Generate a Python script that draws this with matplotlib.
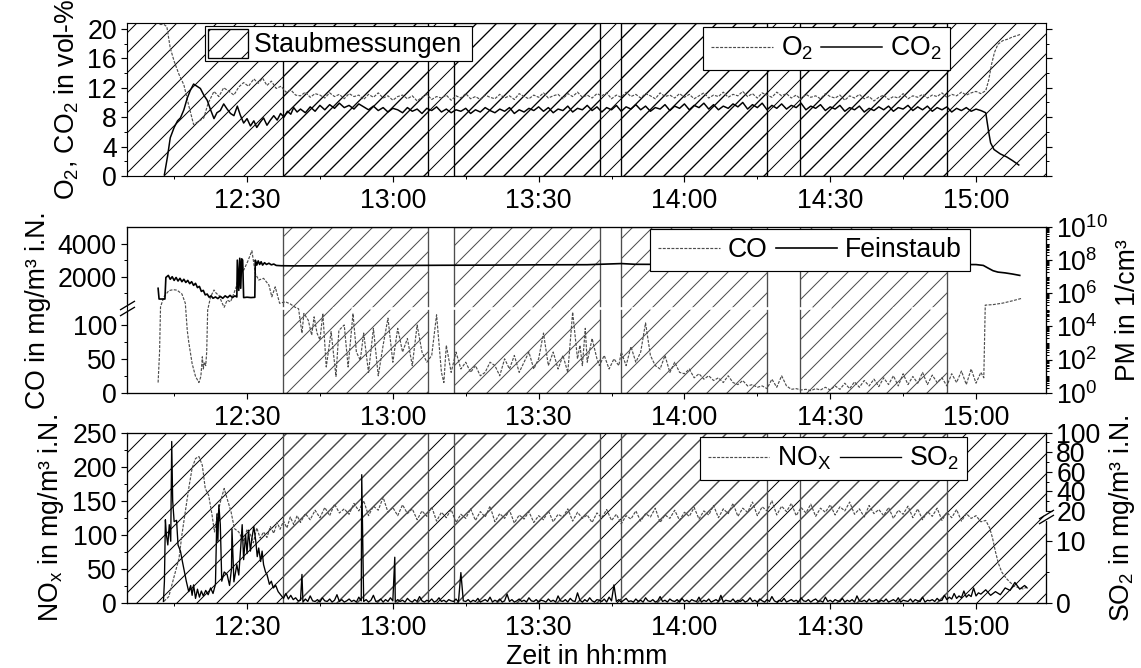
import numpy as np
import matplotlib
matplotlib.use("Agg")
import matplotlib.pyplot as plt
from matplotlib.patches import Patch
from matplotlib.ticker import FixedLocator, FuncFormatter, MultipleLocator, LogLocator, NullFormatter

plt.rcParams["font.family"] = "Liberation Sans"
plt.rcParams["font.size"] = 16
plt.rcParams["mathtext.fontset"] = "custom"
plt.rcParams["mathtext.rm"] = "Liberation Sans"
plt.rcParams["mathtext.it"] = "Liberation Sans:italic"
plt.rcParams["mathtext.bf"] = "Liberation Sans:bold"
plt.rcParams["hatch.linewidth"] = 0.6
plt.rcParams["axes.linewidth"] = 0.7
for a in ("xtick", "ytick"):
    plt.rcParams[a + ".major.size"] = 3.6
    plt.rcParams[a + ".minor.size"] = 2.0
    plt.rcParams[a + ".major.width"] = 0.7
    plt.rcParams[a + ".minor.width"] = 0.6
    plt.rcParams[a + ".direction"] = "out"
plt.rcParams["ytick.major.pad"] = 2.5

# Zeit in Minuten nach 12:00
T_MIN, T_MAX = 5.3, 194.4

# Staubmessungen (Beginn / Ende)
dust_start = [37.4, 72.6, 107.0, 143.8]
dust_end = [67.2, 102.6, 137.0, 174.0]

# ---- O2 in vol-% ----
o2_head_t = [12.0, 12.9, 13.5, 14.2, 15.0, 16.0, 17.0, 18.0, 19.0, 20.0, 21.1, 22.0, 23.2, 24.2,
             25.2, 26.3, 27.3, 28.3, 29.3, 30.3, 31.4, 32.3, 33.2, 34.1, 35.0, 36.0, 37.0, 38.0,
             39.0, 40.0]
o2_head = [20.6, 20.6, 20.3, 17.4, 15.6, 13.8, 12.4, 9.6, 7.0, 7.4, 7.9, 9.9, 11.5, 10.8,
           12.0, 11.5, 11.0, 12.1, 12.7, 12.2, 13.2, 12.6, 13.3, 12.3, 12.9, 11.9, 12.2, 11.4,
           11.7, 11.0]
o2_mid = [  # 12:41 ... 15:01, je Minute
    10.9, 11.4, 10.7, 11.2, 11.0, 10.6, 11.3, 10.8, 11.1, 10.5,
    11.2, 10.8, 11.0, 10.4, 11.1, 10.7, 11.3, 10.6, 10.9, 10.3,
    10.8, 11.0, 10.5, 10.9, 10.2, 10.7, 11.1, 10.4, 10.8, 10.6,
    11.0, 10.3, 10.9, 10.6, 11.2, 10.5, 10.8, 10.4, 11.0, 10.7,
    10.5, 11.1, 10.6, 10.9, 10.4, 11.2, 10.8, 10.5, 11.0, 10.7,
    11.3, 10.6, 10.9, 11.1, 10.5, 11.2, 10.8, 11.4, 10.7, 11.0,
    10.6, 11.2, 10.9, 11.3, 10.5, 11.0, 10.7, 11.4, 10.8, 11.1,
    10.6, 11.2, 10.9, 10.5, 11.3, 10.8, 11.0, 10.6, 11.2, 10.7,
    11.1, 10.5, 10.9, 11.3, 10.6, 11.0, 10.8, 11.4, 10.7, 11.1,
    10.9, 11.5, 10.8, 11.2, 10.6, 11.3, 11.0, 10.7, 11.4, 10.9,
    11.2, 10.6, 11.0, 10.4, 11.1, 10.7, 10.9, 10.5, 11.2, 10.8,
    10.6, 11.0, 10.3, 10.9, 10.6, 11.1, 10.5, 10.8, 10.2, 10.7,
    11.0, 10.4, 10.8, 10.6, 11.2, 10.5, 10.9, 10.7, 11.1, 10.6,
    11.0, 10.8, 11.3, 10.7, 11.1, 10.9, 11.4, 11.0, 11.3, 11.5,
    11.2]
o2_tail_t = [182.0, 182.6, 183.2, 183.8, 184.5, 185.5, 186.5, 187.5, 188.5, 189.3]
o2_tail = [11.6, 13.0, 15.2, 16.8, 17.9, 18.4, 18.6, 18.9, 19.1, 19.3]

# ---- CO2 in vol-% ----
co2_head_t = [13.0, 13.6, 14.2, 15.0, 15.7, 16.3, 17.0, 17.7, 18.3, 19.0, 19.7, 20.4, 21.1, 21.8,
              22.5, 23.2, 23.8, 24.5, 25.2, 25.9, 26.6, 27.3, 28.0, 28.6, 29.3, 30.0, 30.7, 31.4,
              32.0, 32.7, 33.4, 34.1, 34.8, 35.5, 36.2, 36.9, 37.6, 38.3, 39.0, 39.6, 40.3]
co2_head = [0.2, 2.5, 5.2, 6.6, 7.5, 7.9, 9.0, 10.6, 11.6, 12.5, 12.2, 11.9, 11.0, 10.3,
            9.0, 7.8, 8.6, 8.9, 9.8, 9.1, 8.5, 8.2, 9.5, 8.3, 7.2, 7.8, 6.8, 7.5,
            6.6, 7.3, 7.9, 6.9, 7.6, 8.2, 7.6, 8.5, 8.0, 8.8, 8.4, 9.3, 8.7]
co2_mid = [
    9.1, 8.6, 9.4, 8.8, 9.6, 9.0, 9.7, 9.2, 9.9, 9.3,
    9.6, 9.1, 9.8, 9.4, 9.0, 9.5, 8.9, 9.3, 8.7, 9.2,
    9.0, 8.6, 9.3, 8.8, 9.1, 8.5, 9.2, 8.9, 9.4, 8.7,
    9.1, 8.6, 9.0, 8.8, 9.2, 8.5, 9.0, 8.7, 9.3, 8.9,
    8.6, 9.1, 8.8, 9.3, 8.5, 9.0, 8.7, 9.2, 8.9, 9.4,
    8.8, 9.3, 8.6, 9.1, 8.9, 9.5, 8.7, 9.2, 9.0, 9.6,
    8.9, 9.4, 8.7, 9.3, 9.0, 9.6, 8.8, 9.4, 9.1, 9.7,
    9.0, 9.5, 8.8, 9.3, 9.1, 9.7, 8.9, 9.5, 9.2, 9.8,
    9.0, 9.6, 9.3, 9.9, 9.1, 9.7, 9.0, 9.5, 9.2, 9.8,
    9.4, 10.0, 9.1, 9.7, 9.3, 9.9, 9.0, 9.6, 9.2, 9.8,
    9.1, 9.6, 9.3, 9.9, 9.0, 9.5, 9.2, 9.7, 8.9, 9.4,
    9.1, 9.6, 8.8, 9.3, 9.0, 9.5, 8.7, 9.2, 8.9, 9.4,
    9.0, 9.5, 8.8, 9.3, 9.1, 9.6, 8.9, 9.4, 9.0, 9.5,
    8.8, 9.3, 9.0, 9.4, 8.7, 9.2, 8.9, 9.3, 8.8, 9.1,
    8.9]
co2_tail_t = [182.0, 182.6, 183.0, 183.7, 185.0, 186.3, 187.5, 188.8]
co2_tail = [8.6, 6.0, 4.5, 3.6, 3.0, 2.6, 2.1, 1.5]

# ---- CO in mg/m3 i.N. ----
co_head_t = [11.7, 12.0, 12.2, 12.9, 13.9, 14.8, 15.6, 16.6, 17.3, 17.7, 18.0, 18.7, 19.4, 20.1,
             20.5, 20.8, 21.0, 21.2, 21.5, 21.7, 21.9, 22.5, 23.2, 23.7, 24.2, 24.9, 25.3, 25.9,
             26.6, 27.3, 27.9, 28.2, 28.6, 29.3, 30.1, 31.0, 31.7, 32.4, 33.4, 34.5, 35.1, 35.8,
             36.7, 37.9, 38.9, 39.9, 40.6, 41.3, 41.7, 42.6, 43.3, 43.8, 44.4, 45.0, 45.6, 46.3,
             47.3, 48.3, 48.9, 50.0, 50.8, 51.8, 52.5, 53.3, 54.0, 55, 56, 57, 58, 59, 60, 61, 62,
             63, 64, 65, 66, 67, 68, 69, 70, 70.5, 71, 72, 73, 74, 75, 76, 77, 78, 79, 80, 81, 82,
             83, 84, 85, 86, 87, 88, 89, 90, 91, 92, 93, 94, 95, 96, 97, 98, 98.5, 99, 99.6, 100,
             101, 102, 102.5, 103.5, 104.5, 105.5, 106.5, 107, 108, 109, 110, 111, 112, 113, 114,
             115, 116, 117, 118, 119]
co_head = [15, 60, 200, 800, 1170, 1230, 1200, 970, 410, 92, 75, 43, 24, 15,
           24, 53, 35, 45, 40, 60, 122, 800, 1210, 1000, 900, 410, 170, 600,
           500, 1010, 1500, 2000, 3000, 2400, 2900, 3570, 2210, 1810, 1910, 1510, 800, 1400,
           410, 500, 370, 170, 124, 88, 117, 107, 85, 112, 88, 78, 117, 38,
           90, 24, 92, 100, 38, 117, 60, 48, 88, 30, 95, 25, 70, 110, 45, 95, 60,
           80, 40, 100, 60, 45, 55, 115, 30, 15, 70, 30, 60, 35, 45, 30, 40, 25, 30, 45, 40, 25,
           50, 35, 55, 30, 45, 60, 35, 50, 88, 40, 60, 35, 55, 30, 119, 50, 70, 40, 95, 45,
           80, 50, 40, 55, 35, 50, 40, 60, 40, 68, 45, 60, 103, 55, 40,
           35, 55, 30, 45, 30]
co_mid = [  # 14:00 ... 15:00, je Minute
    28, 35, 22, 28, 20, 25, 18, 22, 15, 25,
    15, 12, 18, 10, 12, 8, 10, 6, 20, 8,
    25, 10, 5, 6, 4, 5, 3, 6, 4, 8,
    4, 10, 5, 14, 6, 16, 8, 18, 10, 20,
    9, 22, 12, 25, 10, 28, 12, 24, 14, 30,
    12, 26, 15, 22, 10, 28, 15, 32, 12, 35,
    14]
co_tail_t = [181.0, 181.6, 181.9, 183.5, 185.5, 187.5, 189.3]
co_tail = [30, 22, 300, 330, 420, 560, 700]

# ---- Feinstaub (PM) in 1/cm3 ----
pm_t = [11.7, 11.9, 13.1, 13.3, 13.8, 14.2, 14.6, 15.0, 15.4, 15.8, 16.2, 16.6, 17.0, 17.4,
        17.8, 18.2, 18.6, 19.0, 19.4, 19.8, 20.2, 20.6, 21.0, 21.4, 21.8, 22.2, 22.6, 23.0,
        23.5, 24.0, 24.5, 25.0, 25.5, 26.0, 26.5, 27.0, 27.5, 27.9, 28.0, 28.3, 28.5, 28.7,
        28.9, 29.1, 29.3, 30.0, 30.8, 31.6, 31.7, 32.0, 32.3, 32.6, 32.9, 33.2, 33.6, 34.0,
        34.5, 35.0, 35.5, 36.0, 37.0, 40, 50, 60, 70, 80, 90, 100, 104, 107, 110, 120, 130,
        140, 150, 160, 170, 180, 181.5, 182.5, 183.5, 184.5, 186.0, 187.5, 189.0]
pm = [2.0e6, 4.5e5, 4.5e5, 9e6, 1.2e7, 7e6, 1.0e7, 6e6, 9e6, 5.5e6, 8e6, 5e6, 7e6, 4.5e6,
      6e6, 3.8e6, 5e6, 3e6, 4e6, 2.2e6, 2.6e6, 1.3e6, 1.5e6, 8e5, 9e5, 5.8e5, 7e5, 5e5,
      6e5, 4.8e5, 6.5e5, 5e5, 7e5, 5.5e5, 7.5e5, 5.5e5, 7e5, 6e5, 1.0e8, 1.5e6, 1.3e8, 2e6,
      1.2e8, 1.0e8, 5.5e5, 5.8e5, 5.5e5, 5.7e5, 1.0e8, 5e7, 9e7, 5.5e7, 8e7, 5e7, 7e7, 5.5e7,
      6.5e7, 5.2e7, 5.8e7, 4.8e7, 4.6e7, 4.5e7, 4.6e7, 4.7e7, 4.9e7, 5.0e7, 5.2e7, 5.3e7, 5.8e7,
      6.2e7, 5.6e7, 5.5e7, 5.6e7, 5.6e7, 5.5e7, 5.6e7, 5.5e7, 5.4e7, 4.8e7, 3.3e7, 2.3e7,
      1.9e7, 1.7e7, 1.45e7, 1.2e7]

# ---- NOx in mg/m3 i.N. ----
nox_head_t = [12.9, 13.9, 14.9, 16.0, 16.6, 17.3, 18.0, 18.7, 19.4, 20.1, 20.8, 21.4, 22.1, 22.8,
              23.3, 23.8, 24.5, 25.3, 25.9, 26.7, 27.4, 28.3, 29.3, 30.0, 30.7, 31.3, 32.0, 32.7,
              33.4, 34.1, 34.8, 35.5, 36.2, 36.8, 37.5, 38.2, 38.9, 39.6, 40.3]
nox_head = [2, 9, 36, 65, 100, 134, 168, 198, 212, 215, 202, 168, 158, 129,
            104, 124, 148, 168, 153, 134, 109, 104, 90, 108, 100, 88, 110, 95,
            104, 96, 112, 102, 118, 108, 120, 110, 126, 115, 128]
nox_mid = [
    118, 131, 122, 136, 125, 140, 128, 145, 132, 138,
    130, 146, 135, 150, 128, 142, 136, 155, 133, 140,
    128, 144, 131, 138, 122, 135, 127, 141, 120, 133,
    125, 137, 118, 130, 124, 138, 121, 134, 126, 142,
    119, 131, 124, 136, 117, 129, 123, 134, 118, 128,
    122, 135, 119, 130, 126, 138, 120, 133, 124, 129,
    118, 132, 125, 137, 121, 130, 116, 128, 123, 135,
    120, 131, 126, 139, 118, 129, 124, 136, 121, 133,
    127, 140, 123, 135, 129, 143, 125, 138, 131, 146,
    127, 139, 133, 148, 128, 141, 135, 150, 129, 142,
    134, 146, 128, 140, 132, 145, 127, 139, 133, 144,
    129, 141, 135, 148, 130, 138, 126, 143, 131, 137,
    128, 140, 124, 136, 130, 142, 125, 138, 122, 134,
    127, 139, 121, 133, 125, 137, 120, 131, 124, 128,
    119]
nox_tail_t = [182.0, 182.8, 183.4, 184.0, 184.6, 185.3, 186.2, 187.0, 188.0, 188.8, 189.8, 190.5]
nox_tail = [121, 110, 95, 75, 58, 45, 36, 30, 24, 22, 20, 24]

# ---- SO2 in mg/m3 i.N. ----
so2_head_t = [12.8, 13.0, 13.2, 13.4, 13.7, 14.0, 14.3, 14.5, 14.7, 15.0, 15.5, 15.8, 16.3, 16.7,
              17.1, 17.5, 18.0, 18.4, 18.7, 19.0, 19.4, 19.8, 20.2, 20.6, 21.0, 21.5, 22.0, 22.5,
              23.0, 23.5, 23.8, 24.0, 24.2, 24.5, 24.8, 25.3, 25.9, 26.4, 26.8, 26.9, 27.3, 27.9,
              28.3, 28.7, 29.0, 29.3, 29.7, 30.0, 30.3, 30.7, 31.0, 31.4, 31.8, 32.1, 32.4, 32.8,
              33.1, 33.4, 33.8, 34.1, 34.6, 35.0, 35.4, 35.9, 36.4, 37.0, 37.5, 38.0, 38.5, 39.0,
              39.5, 40.0, 40.5]
so2_head = [0.2, 3.5, 13.5, 11.1, 9.4, 12.7, 10.0, 91.0, 30.0, 13.2, 13.4, 9.4, 8.4, 6.7,
            5.1, 3.5, 1.8, 2.8, 1.2, 2.9, 0.7, 2.2, 0.9, 1.9, 1.1, 2.0, 1.3, 2.4,
            1.5, 3.0, 16.9, 10.0, 26.0, 12.7, 3.5, 5.0, 4.6, 2.8, 5.5, 12.0, 3.4, 6.2,
            4.5, 9.0, 12.7, 7.0, 11.1, 8.0, 11.8, 8.4, 10.5, 12.4, 10.0, 7.5, 8.9, 6.7,
            8.4, 6.2, 5.0, 4.6, 3.0, 3.5, 2.4, 2.8, 1.8, 1.2, 0.7, 1.5, 0.6, 1.2,
            0.5, 0.8, 0.3]
so2_mid = [  # 12:41 ... 15:01, je halbe Minute
    0.4, 0.1, 0.6, 0.2, 1.1, 0.3, 0.2, 0.5, 0.1, 0.8, 0.3, 0.2, 0.6, 0.1, 0.4, 1.3, 0.2, 0.5, 0.1, 0.3,
    0.6, 0.2, 0.4, 0.1, 0.9, 0.3, 0.2, 0.5, 0.1, 0.4, 1.2, 0.2, 0.3, 0.6, 0.1, 0.5, 0.2, 0.8, 0.3, 0.1,
    0.5, 0.2, 0.4, 0.1, 0.7, 0.3, 0.1, 0.5, 0.2, 1.0, 0.3, 0.1, 0.4, 0.2, 0.6, 0.1, 0.3, 0.8, 0.2, 0.4,
    0.1, 0.5, 0.3, 0.2, 0.6, 0.1, 4.9, 0.3, 0.2, 0.5, 0.1, 0.4, 0.2, 0.7, 0.1, 0.3, 0.5, 0.2, 0.9, 0.1,
    0.4, 0.2, 0.6, 0.1, 0.3, 1.4, 0.2, 0.5, 0.1, 0.3, 0.6, 0.2, 0.4, 0.1, 0.8, 0.3, 0.2, 0.5, 0.1, 0.4,
    0.3, 0.1, 0.6, 0.2, 0.4, 0.1, 1.1, 0.3, 0.2, 0.5, 0.1, 0.7, 0.3, 0.2, 1.6, 0.4, 0.1, 0.5, 0.2, 0.8,
    0.3, 0.1, 0.5, 0.4, 0.2, 0.6, 0.1, 0.9, 0.3, 2.9, 0.2, 0.5, 0.1, 0.4, 0.7, 0.2, 0.3, 0.1, 0.6, 0.2,
    0.4, 0.1, 0.8, 0.3, 0.2, 0.5, 0.1, 0.3, 1.0, 0.2, 0.4, 0.1, 0.6, 0.3, 0.2, 0.5, 0.1, 0.7, 0.2, 0.4,
    0.1, 0.5, 0.3, 0.2, 0.9, 0.1, 0.4, 0.2, 0.6, 0.1, 0.3, 0.5, 0.2, 1.2, 0.1, 0.4, 0.3, 0.2, 0.6, 0.1,
    0.4, 0.2, 0.5, 0.1, 0.3, 0.8, 0.2, 0.4, 0.1, 0.6, 0.3, 0.1, 0.5, 0.2, 1.0, 0.3, 0.1, 0.4, 0.2, 0.7,
    0.1, 0.3, 0.5, 0.2, 0.4, 0.1, 0.8, 0.3, 0.2, 0.5, 0.1, 0.4, 0.6, 0.2, 0.3, 0.1, 0.9, 0.2, 0.4, 0.1,
    0.5, 0.3, 0.2, 0.7, 0.1, 0.4, 0.2, 0.5, 0.1, 1.1, 0.3, 0.2, 0.4, 0.1, 0.6, 0.2, 0.3, 0.5, 0.1, 0.4,
    0.2, 0.6, 0.1, 0.3, 0.5, 0.2, 0.8, 0.1, 0.4, 0.3, 0.2, 0.6, 0.1, 0.5, 0.3, 0.2, 0.9, 0.1, 0.4, 0.3,
    0.5, 0.2, 0.7, 0.3, 0.4, 1.2, 0.5, 0.9, 0.6, 1.5, 0.7, 1.1, 0.8, 1.9, 0.9, 1.3, 1.0, 2.4, 1.1, 1.6,
    1.4]
so2_spike_t = [41.3, 53.6, 60.4]
so2_spike = [4.6, 57.0, 7.4]
so2_tail_t = [182, 183, 184, 185, 186, 187, 188, 189, 190, 190.5]
so2_tail = [2.1, 1.2, 1.8, 1.3, 2.4, 2.0, 3.3, 2.2, 2.8, 2.4]

minutes = np.arange(41, 182)
o2_t = np.concatenate([o2_head_t, minutes, o2_tail_t])
o2 = np.concatenate([o2_head, o2_mid, o2_tail])
co2_t = np.concatenate([co2_head_t, minutes, co2_tail_t])
co2 = np.concatenate([co2_head, co2_mid, co2_tail])
co_t = np.concatenate([co_head_t, np.arange(120, 181), co_tail_t])
co = np.concatenate([co_head, co_mid, co_tail])
nox_t = np.concatenate([nox_head_t, minutes, nox_tail_t])
nox = np.concatenate([nox_head, nox_mid, nox_tail])
so2_t = np.concatenate([so2_head_t, np.arange(41, 181.01, 0.5), so2_spike_t, so2_tail_t])
so2 = np.concatenate([so2_head, so2_mid, so2_spike, so2_tail])
order = np.argsort(so2_t, kind="stable")
so2_t, so2 = so2_t[order], so2[order]

# gebrochene Achsen: unterer Bereich linear bis zum Knick, darüber gestaucht
CO_BREAK, CO_TOP, CO_FRAC = 125.0, 5000.0, 0.511
SO2_BREAK, SO2_TOP, SO2_FRAC = 14.0, 100.0, 0.506


def make_break_scale(brk, top, frac):
    def fwd(v):
        v = np.asarray(v, dtype=float)
        return np.where(v <= brk, v / brk * frac, frac + (v - brk) / (top - brk) * (1 - frac))

    def inv(u):
        u = np.asarray(u, dtype=float)
        return np.where(u <= frac, u / frac * brk, brk + (u - frac) / (1 - frac) * (top - brk))
    return fwd, inv


def hhmm(m, _):
    m = int(round(m))
    return f"{12 + m // 60}:{m % 60:02d}"


def time_axis(ax):
    ax.set_xlim(T_MIN, T_MAX)
    ax.xaxis.set_major_locator(MultipleLocator(30))
    ax.xaxis.set_minor_locator(MultipleLocator(15))
    ax.xaxis.set_major_formatter(FuncFormatter(hhmm))


def dust_spans(ax, edge):
    for a, b in zip(dust_start, dust_end):
        ax.axvspan(a, b, facecolor="none", edgecolor=edge, hatch="//", lw=0.8, zorder=1)


def axis_break(ax, x, f):
    ax.plot([x, x], [f - 0.013, f + 0.013], transform=ax.transAxes, color="white",
            lw=2.5, clip_on=False, zorder=5)
    ax.plot([x, x], [f - 0.016, f + 0.016], transform=ax.transAxes, marker=[(-1, -0.6), (1, 0.6)],
            markersize=9, linestyle="none", color="black", mec="black", mew=0.8,
            clip_on=False, zorder=6)


legend_kw = dict(frameon=True, fancybox=False, edgecolor="black", framealpha=1,
                 borderaxespad=0, borderpad=0.3, handlelength=2.3, handletextpad=0.3,
                 columnspacing=0.3, ncol=2, loc="upper right")

fig = plt.figure(figsize=(1141 / 120, 668 / 120), dpi=120)
ax1 = fig.add_axes([127 / 1141, 1 - 176 / 668, 919 / 1141, 153 / 668])
ax2 = fig.add_axes([127 / 1141, 1 - 392.7 / 668, 919 / 1141, 165.7 / 668])
ax3 = fig.add_axes([127 / 1141, 1 - 602.7 / 668, 919 / 1141, 170 / 668])

# --- O2 / CO2 ---
time_axis(ax1)
ax1.axvspan(T_MIN, T_MAX, facecolor="white", edgecolor="black", hatch="//", lw=0, zorder=0.5)
dust_spans(ax1, "black")
l_o2, = ax1.plot(o2_t, o2, color="0.3", lw=0.7, dashes=(2.5, 1.2), zorder=3)
l_co2, = ax1.plot(co2_t, co2, color="black", lw=0.9, zorder=3)
ax1.set_ylim(0, 20.8)
ax1.yaxis.set_major_locator(MultipleLocator(4))
ax1.yaxis.set_minor_locator(MultipleLocator(2))
ax1.tick_params(axis="y", which="both", right=True)
ax1.set_ylabel("O$_2$, CO$_2$ in vol-%")
leg1 = ax1.legend(handles=[Patch(facecolor="white", edgecolor="black", hatch="//", lw=0.8)],
                  labels=["Staubmessungen "], loc="upper left", bbox_to_anchor=(0.085, 0.98),
                  frameon=True, fancybox=False, edgecolor="black", framealpha=1,
                  borderaxespad=0, borderpad=0.1, handlelength=1.5, handleheight=1.3,
                  handletextpad=0.25)
leg1.get_frame().set_linewidth(0.7)
ax1.add_artist(leg1)
leg = ax1.legend([l_o2, l_co2], ["O$_2$", "CO$_2$"], bbox_to_anchor=(0.8955, 0.974), **legend_kw)
leg.get_frame().set_linewidth(0.7)

# --- CO / Feinstaub ---
time_axis(ax2)
co_fwd, co_inv = make_break_scale(CO_BREAK, CO_TOP, CO_FRAC)
ax2.set_yscale("function", functions=(co_fwd, co_inv))
ax2.set_ylim(0, CO_TOP)
dust_spans(ax2, "0.3")
ax2.axhline(CO_BREAK, color="white", lw=1.6, dashes=(5, 2), zorder=1.5)
l_co, = ax2.plot(co_t, co, color="0.3", lw=0.7, dashes=(2.5, 1.2), zorder=3)
ax2.yaxis.set_major_locator(FixedLocator([0, 50, 100, 2000, 4000]))
ax2.yaxis.set_minor_locator(FixedLocator([25, 75, 1000, 3000]))
ax2.yaxis.set_major_formatter(FuncFormatter(lambda v, _: f"{v:g}"))
ax2.yaxis.set_minor_formatter(NullFormatter())
ax2.set_ylabel("CO in mg/m³ i.N.")
axis_break(ax2, 0, float(co_fwd(CO_BREAK)))

ax2r = ax2.twinx()
ax2r.set_yscale("log")
ax2r.set_ylim(1, 1e10)
l_pm, = ax2r.plot(pm_t, pm, color="black", lw=1.0, zorder=3)
ax2r.yaxis.set_major_locator(FixedLocator([10.0 ** k for k in range(0, 11, 2)]))
ax2r.yaxis.set_major_formatter(FuncFormatter(lambda v, _: r"$10^{%d}$" % round(np.log10(v))))
ax2r.yaxis.set_minor_locator(LogLocator(base=10, subs=np.arange(1, 10), numticks=100))
ax2r.yaxis.set_minor_formatter(NullFormatter())
ax2r.set_ylabel("PM in 1/cm³")
leg = ax2r.legend([l_co, l_pm], ["CO", "Feinstaub"], bbox_to_anchor=(0.917, 0.988), **legend_kw)
leg.get_frame().set_linewidth(0.7)

# --- NOx / SO2 ---
time_axis(ax3)
ax3.axvspan(T_MIN, T_MAX, facecolor="white", edgecolor="black", hatch="//", lw=0, zorder=0.5)
dust_spans(ax3, "0.3")
l_nox, = ax3.plot(nox_t, nox, color="0.3", lw=0.7, dashes=(2.5, 1.2), zorder=3)
ax3.set_ylim(0, 250)
ax3.yaxis.set_major_locator(MultipleLocator(50))
ax3.yaxis.set_minor_locator(MultipleLocator(25))
ax3.set_ylabel(r"NO$_\mathrm{x}$ in mg/m³ i.N.")
ax3.set_xlabel("Zeit in hh:mm", labelpad=2)

ax3r = ax3.twinx()
so2_fwd, so2_inv = make_break_scale(SO2_BREAK, SO2_TOP, SO2_FRAC)
ax3r.set_yscale("function", functions=(so2_fwd, so2_inv))
ax3r.set_ylim(0, SO2_TOP)
l_so2, = ax3r.plot(so2_t, so2, color="black", lw=0.8, zorder=3)
ax3r.yaxis.set_major_locator(FixedLocator([0, 10, 20, 40, 60, 80, 100]))
ax3r.yaxis.set_minor_locator(FixedLocator([5, 30, 50, 70, 90]))
ax3r.yaxis.set_major_formatter(FuncFormatter(lambda v, _: f"{v:g}"))
ax3r.yaxis.set_minor_formatter(NullFormatter())
ax3r.set_ylabel("SO$_2$ in mg/m³ i.N.")
axis_break(ax3r, 1, float(so2_fwd(SO2_BREAK)))
leg = ax3r.legend([l_nox, l_so2], [r"NO$_\mathrm{X}$", "SO$_2$"], bbox_to_anchor=(0.914, 0.975),
                  **legend_kw)
leg.get_frame().set_linewidth(0.7)

fig.savefig("out.png", dpi=120)
